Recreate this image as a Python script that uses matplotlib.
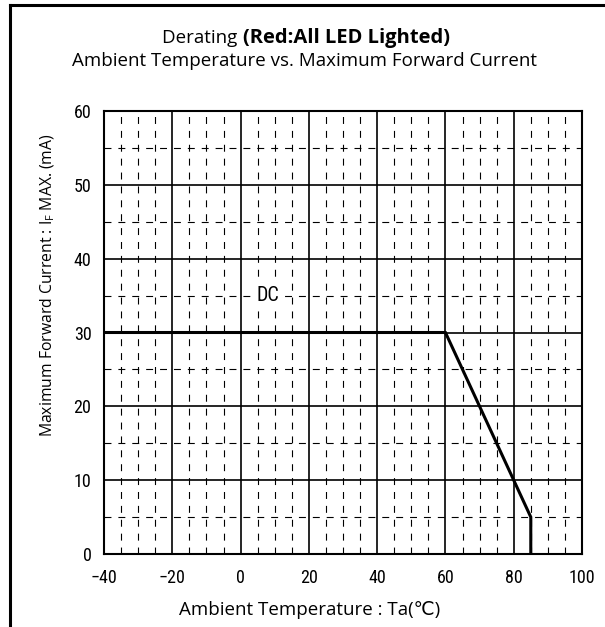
import matplotlib.pyplot as plt
from matplotlib.lines import Line2D
from matplotlib import font_manager

# derating curve (Ta in degC, IF max in mA)
temp = [-40, 60, 85, 85]
current = [30, 30, 5, 0]

x_ticks = [-40, -20, 0, 20, 40, 60, 80, 100]
y_ticks = [0, 10, 20, 30, 40, 50, 60]
x_minor = [-35, -30, -25, -15, -10, -5, 5, 10, 15, 25, 30, 35, 45, 50, 55, 65, 70, 75, 85, 90, 95]
y_minor = [5, 15, 25, 35, 45, 55]

names = sorted({f.name for f in font_manager.fontManager.ttflist})
narrow = 'DejaVu Sans'
for cand in ['Liberation Sans Narrow', 'Roboto Condensed', 'DejaVu Sans Condensed', 'Open Sans Condensed']:
    if cand in names:
        narrow = cand
        break
title_font = 'Open Sans'

plt.rcParams['lines.scale_dashes'] = False

fig = plt.figure(figsize=(6.05, 6.27), dpi=100)
ax = fig.add_axes([104/605, 1-554/627, 478/605, 443/627])

# minor dashed grid
for xv in x_minor:
    ax.axvline(xv, color='black', lw=0.8, dashes=(5, 5))
for yv in y_minor:
    ax.axhline(yv, color='black', lw=0.8, dashes=(5, 5))
# major solid grid
for xv in x_ticks[1:-1]:
    ax.axvline(xv, color='black', lw=1.2)
for yv in y_ticks[1:-1]:
    ax.axhline(yv, color='black', lw=1.2)

ax.plot(temp, current, color='black', lw=2.2, solid_joinstyle='miter')

ax.text(8, 35, 'DC', family=narrow, fontsize=14.5, ha='center', va='center',
        bbox=dict(facecolor='white', edgecolor='none', pad=3))

ax.set_xlim(-40, 100)
ax.set_ylim(0, 60)
ax.set_xticks(x_ticks)
ax.set_yticks(y_ticks)
ax.set_xticklabels(['\u221240', '\u221220', '0', '20', '40', '60', '80', '100'])
ax.tick_params(length=0, pad=11, labelsize=13)
ax.tick_params(axis='y', pad=9)
for lab in ax.get_xticklabels() + ax.get_yticklabels():
    lab.set_family(narrow)
for sp in ax.spines.values():
    sp.set_linewidth(1.5)

# title line 1: normal + bold part, centred together
t1 = fig.text(0, 1-38/627, 'Derating ', ha='left', va='center', family=title_font, fontsize=13.5)
t2 = fig.text(0, 1-38/627, '(Red:All LED Lighted)', ha='left', va='center', family=title_font,
              fontsize=14.5, fontweight='bold')
r = fig.canvas.get_renderer()
w1 = t1.get_window_extent(r).width
w2 = t2.get_window_extent(r).width
x0 = 306 - (w1 + w2) / 2
t1.set_x(x0 / 605)
t2.set_x((x0 + w1) / 605)

fig.text(305/605, 1-61/627, 'Ambient Temperature vs. Maximum Forward Current', ha='center', va='center',
         family=title_font, fontsize=13.5)
fig.text(310/605, 1-610/627, 'Ambient Temperature : Ta(\u2103)', ha='center', va='center',
         family=[title_font, 'DejaVu Sans'], fontsize=13.5)
fig.text(48/605, 1-285/627, r'Maximum Forward Current : I$_\mathregular{F}$ MAX. (mA)', ha='center', va='center',
         rotation=90, family=title_font, fontsize=11.3)

# outer frame, running off the right and bottom edges
fig.add_artist(Line2D([10/605, 10/605], [1-5/627, -0.1], color='black', lw=2.2, transform=fig.transFigure))
fig.add_artist(Line2D([10/605, 1.1], [1-5/627, 1-5/627], color='black', lw=2.2, transform=fig.transFigure))

fig.savefig('out.png', dpi=100)
